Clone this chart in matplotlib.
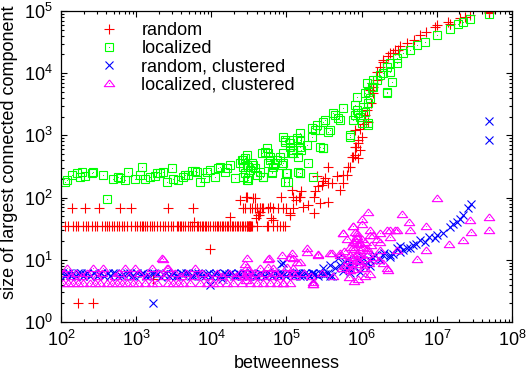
import matplotlib
matplotlib.use("Agg")
import matplotlib.pyplot as plt
from matplotlib.legend_handler import HandlerTuple

# gnuplot-like look
plt.rcParams['font.family'] = ['Liberation Sans', 'DejaVu Sans']
plt.rcParams['mathtext.fontset'] = 'custom'
plt.rcParams['mathtext.rm'] = 'Liberation Sans'
plt.rcParams['font.size'] = 13

# random: long flat row at size 35
red_flat_x = [113, 124, 146, 160, 170, 198, 215, 231, 260, 280, 300, 348, 385, 405, 430, 472,
              510, 550, 590, 641, 690, 748, 850, 964, 1016, 1125, 1180, 1243, 1330, 1405,
              1520, 1608, 1740, 1875, 2072, 2293, 2450, 2672, 2900, 3113, 3457, 3650, 3822,
              4000, 4227, 4460, 4928, 5200, 5470, 5800, 6379, 6700, 7050, 7400, 7800, 8220,
              8600, 9100, 9700, 10600, 11200, 11770, 12360, 13000, 13700, 14400, 15200, 15960,
              16800, 17700, 18600, 19600, 20600, 21700, 22800, 24000, 25300, 26600, 28000,
              29400, 30200, 30700, 31300, 31900, 32500, 33100, 33700, 34400, 40000, 54400,
              57100, 66500, 73800, 81600, 90400, 95300]
red_flat_y = 35

red_pts = [(139, 69), (209, 69), (324, 69), (603, 69), (861, 69), (2690, 69), (5750, 69),
           (32400, 69), (35000, 69), (38000, 69), (41000, 69), (44000, 69), (47000, 69),
           (49000, 69), (57500, 69), (66100, 69), (77600, 69), (91200, 69), (100000, 69),
           (123000, 69), (44700, 68), (60300, 71),
           (24000, 91), (28800, 102), (36300, 100), (17800, 48), (41700, 52), (44700, 59),
           (28200, 68), (85100, 102), (117000, 132), (112000, 52), (135000, 91), (63100, 47),
           (38900, 47), (42700, 52), (9550, 15), (5890, 41), (170, 2), (263, 2), (1700, 5),
           (29500, 102), (38000, 98), (26300, 68), (66100, 44), (112000, 56), (123000, 102),
           (145000, 102), (158000, 126), (166000, 71), (195000, 76), (229000, 102),
           (240000, 126), (229000, 56), (275000, 81), (355000, 85), (263000, 151),
           (309000, 182), (355000, 170), (324000, 204), (468000, 219), (513000, 132),
           (562000, 170), (631000, 229), (692000, 316), (355000, 316), (813000, 479),
           (851000, 661), (891000, 851), (1.0e6, 955), (1.05e6, 1550), (1.23e6, 1660),
           (1.10e6, 2140), (955000, 1290), (891000, 427), (776000, 457), (955000, 589),
           (813000, 1230), (1.41e6, 6030), (1.58e6, 7760), (1.41e6, 4790), (1.74e6, 12600),
           (1.95e6, 15100), (2.24e6, 18600), (2.63e6, 20900), (3.09e6, 23400),
           (251000, 219), (151000, 102), (295000, 158), (398000, 174), (562000, 229),
           (661000, 316), (741000, 457), (813000, 661), (891000, 741), (1.17e6, 2570),
           (1.35e6, 3310), (1.29e6, 5370), (1.41e6, 6920), (1.58e6, 10500), (1.95e6, 16200),
           (2.40e6, 20900), (2.75e6, 23400), (3.24e6, 26900), (3.98e6, 30200),
           (4.90e6, 33900), (5.89e6, 40700), (7.24e6, 46800), (9.33e6, 56200),
           (9.9e6, 58900), (1.41e7, 67600), (1.48e7, 61700), (2.04e7, 75900),
           (2.34e7, 81300), (2.75e7, 87100), (5.0e7, 93300), (5.0e7, 97700)]

green_pts = [(113, 180), (119, 192), (139, 231), (162, 246), (179, 217), (188, 261), (208, 222),
             (256, 251), (269, 261), (366, 231), (405, 95), (496, 197), (578, 212), (610, 204),
             (710, 192), (785, 261), (964, 197), (1122, 231), (1183, 307), (1310, 197),
             (1528, 212), (1780, 222), (1875, 246), (2070, 246), (2290, 261), (2545, 180),
             (2965, 296), (3110, 197), (3630, 192), (4230, 212), (4460, 231), (4930, 231),
             (5470, 270), (6050, 270), (6370, 261), (7050, 180), (8220, 204), (8650, 261),
             (9570, 278), (11170, 212), (12360, 296), (13000, 314), (15200, 261),
             (15960, 296), (17660, 334), (20600, 204), (23990, 356), (25300, 402),
             (28000, 428), (29450, 334), (31000, 204), (32600, 278), (40000, 231),
             (46700, 515), (49000, 217), (54300, 621), (57100, 515), (60100, 402),
             (63400, 261), (70200, 356), (81600, 455), (95300, 180), (100300, 246),
             (95300, 792), (111000, 746), (123000, 583), (136000, 898), (143000, 455),
             (143000, 261), (117000, 515), (26600, 314), (29400, 484), (34400, 356),
             (38000, 296), (44300, 261), (26600, 217), (30000, 192), (26600, 402),
             (31000, 314), (28000, 246), (31000, 192), (36100, 334), (51600, 547),
             (60100, 455), (57100, 356), (66500, 314), (73800, 402), (86100, 334),
             (63400, 246), (49000, 217), (95300, 843), (111000, 658), (123000, 515),
             (151000, 843), (158000, 583), (185000, 701), (216000, 953), (239000, 1222),
             (278000, 1222), (308000, 1660), (359000, 1148), (441000, 2130), (513000, 1770),
             (308000, 621), (151000, 246), (105000, 180), (195000, 356), (226000, 217),
             (278000, 658), (697000, 953), (771000, 1770), (897000, 2265), (998000, 1567),
             (1.05e6, 2890), (1.22e6, 3280), (813000, 3080), (855000, 4190), (1.10e6, 4750),
             (1.29e6, 3950), (1.22e6, 1470), (946000, 2000), (813000, 2130), (1.10e6, 2400),
             (1.36e6, 6070), (2.14e6, 5050), (1.58e6, 7780), (1.93e6, 9960), (2.37e6, 10570),
             (2.50e6, 7300), (2.14e6, 12700), (2.91e6, 14400), (2.14e6, 4860), (697000, 1014),
             (302000, 621), (151000, 251), (418000, 2265), (487000, 1880), (324000, 1770),
             (568000, 2730), (1.16e6, 6890), (1.42e6, 7780), (1.75e6, 9350), (1.42e6, 6070),
             (1.22e6, 1567), (1.22e6, 5050), (855000, 2560), (2.37e6, 14400), (2.91e6, 17400),
             (3.56e6, 20900), (4.37e6, 23600), (5.37e6, 28400), (6.92e6, 32100),
             (9.9e6, 41100), (1.49e7, 50800), (1.92e7, 61800), (2.24e7, 67300),
             (2.75e7, 74300), (4.95e7, 89500), (90400, 953), (123000, 843), (151000, 658),
             (90400, 515), (151000, 1081), (216000, 1300), (251000, 1470), (378000, 1222),
             (90400, 356), (100000, 246)]

blue_pts = [(103, 6.1), (113, 5.4), (118, 5.9), (128, 6.1), (135, 5.5), (144, 6.1), (158, 5.5),
            (170, 6.1), (185, 6.2), (195, 5.5), (208, 6.0), (225, 6.1), (243, 5.4), (275, 6.1),
            (300, 5.5), (320, 6.0), (345, 6.1), (373, 5.5), (422, 6.1), (450, 5.5), (491, 6.2),
            (530, 6.1), (573, 5.4), (620, 5.5), (667, 6.0), (755, 6.1), (820, 6.1), (879, 5.5),
            (950, 5.4), (1025, 6.1), (1158, 6.0), (1250, 6.1), (1350, 5.4), (1480, 5.5),
            (1622, 6.1), (1750, 6.1), (1891, 6.0), (2138, 5.3), (2300, 6.0), (2490, 6.1),
            (2700, 5.5), (2903, 6.0), (3150, 6.1), (3382, 5.5), (3650, 5.4), (3944, 6.1),
            (4250, 6.0), (4592, 6.2), (4950, 6.1), (5355, 5.4), (5700, 5.5), (6053, 6.1),
            (6550, 6.1), (7050, 6.0), (7600, 5.4), (8220, 5.5), (8750, 6.0), (9290, 6.1),
            (9800, 5.5), (10830, 6.0), (11500, 6.1), (12620, 5.4), (13600, 5.5), (14710, 6.1),
            (15900, 6.0), (17150, 6.0), (18500, 6.1), (20000, 5.5), (21300, 5.4), (22600, 6.1),
            (24000, 6.0), (25540, 5.4), (27600, 6.1), (29740, 6.0), (31500, 5.4), (33630, 6.1),
            (35700, 6.0), (38000, 5.5), (41000, 5.5), (44300, 6.1), (47600, 6.0), (51600, 5.4),
            (55500, 6.1), (60100, 6.0), (64800, 5.4), (70200, 6.1), (75000, 6.0), (79300, 5.5),
            (85700, 6.1), (92300, 6.0), (99000, 5.4), (107600, 6.1), (116000, 6.0),
            (125400, 5.5), (133000, 6.1), (141800, 6.1), (153000, 5.5), (165200, 5.4),
            (178000, 6.1), (192600, 6.0), (208000, 5.5), (224400, 6.1), (242000, 6.0),
            (261600, 5.5), (283000, 6.1), (304800, 6.0), (330000, 6.0), (355500, 6.1),
            (375000, 5.5), (401700, 5.4),
            (441000, 7.4), (513000, 8.2), (598000, 9.2), (697000, 8.8), (855000, 9.9),
            (1.16e6, 9.3), (1.75e6, 9.9), (2.37e6, 11.9), (3.22e6, 13.5), (3.95e6, 15.3),
            (630000, 9.9), (946000, 9.3), (1.29e6, 9.9), (1.93e6, 11.9), (2.37e6, 11.2),
            (2.91e6, 15.3), (3.56e6, 14.4), (4.37e6, 15.3), (4.84e6, 17.3), (5.94e6, 20.8),
            (6.92e6, 19.5), (9.4e6, 22.2), (9.9e6, 25.1), (1.49e7, 34), (1.83e7, 41),
            (2.24e7, 52.5), (2.61e7, 67.3), (2.81e7, 78.9), (1.5e6, 11.9), (998000, 11.2),
            (697000, 6.1), (946000, 6.4), (630000, 7.3), (487000, 10.6), (378000, 8.2),
            (308000, 7.3), (216000, 6.1), (151000, 6.1), (226000, 4.7), (1.1e6, 8.5),
            (1.4e6, 10.5), (800000, 7.8), (560000, 6.5), (1.3e6, 8.0), (2.0e6, 13),
            (2.6e6, 12.5), (3.2e6, 16.5), (5.3e6, 18), (7.8e6, 23), (1.2e7, 27),
            (1.65e7, 38), (2.05e7, 46),
            (1700, 2), (85100, 8.7), (13800, 5.0), (90400, 8.8), (9570, 3.9),
            (4.9e7, 1720), (4.9e7, 843)]

magenta_pts = [(107, 4.3), (125, 4.3), (146, 4.3), (170, 4.3), (198, 4.3), (243, 4.3), (283, 4.3),
               (330, 4.3), (405, 4.3), (472, 4.3), (550, 4.3), (641, 4.3), (748, 4.3), (915, 4.3),
               (1067, 4.3), (1310, 4.3), (1608, 4.3), (1875, 4.3), (2672, 4.3), (3113, 4.3),
               (3630, 4.3), (4227, 4.3), (5190, 4.3), (7050, 4.3), (8650, 4.3), (10600, 4.3),
               (12360, 4.3), (15960, 4.3), (19540, 4.3), (25300, 4.3), (32600, 4.3),
               (40000, 4.3), (49000, 4.3), (60100, 4.3), (73800, 4.3), (90400, 4.2),
               (111000, 4.3), (226000, 4.1),
               (110, 6.1), (135, 5.4), (160, 6.1), (190, 5.4), (225, 6.1), (300, 5.4), (350, 6.1),
               (520, 5.4), (600, 6.1), (800, 5.4), (1100, 6.1), (1400, 5.4), (2000, 6.1),
               (2400, 5.4), (3300, 6.1), (4000, 5.4), (4600, 6.1), (5800, 5.4), (7500, 6.1),
               (9000, 5.4), (12000, 6.1), (14000, 5.4), (17000, 6.1), (21000, 5.4),
               (24000, 6.1), (27000, 5.4), (30000, 6.1), (34000, 5.4), (37000, 6.1),
               (45000, 5.4), (52000, 6.1), (62000, 5.4), (70000, 6.1), (80000, 5.4),
               (100000, 6.1), (130000, 5.4), (170000, 6.1), (210000, 5.4), (300000, 6.1),
               (420000, 5.4),
               (119, 7.3), (269, 7.3), (366, 7.3), (710, 7.3), (964, 7.3), (1608, 7.3),
               (2545, 7.3), (2672, 7.3), (6053, 7.3), (29450, 7.7), (44300, 7.3), (57100, 7.7),
               (66500, 7.3), (123000, 7.3),
               (2184, 10.5), (2250, 10.2), (29450, 10.5), (57100, 10.2), (58900, 10.5),
               (86100, 11.9), (123000, 10.5), (28000, 8.5), (30000, 5.5), (31000, 6.9),
               (28800, 4.8),
               (111000, 11.2), (136000, 9.3), (185000, 13.5), (264000, 11.9), (398000, 12.7),
               (513000, 11.9), (568000, 26.7), (771000, 34.8), (998000, 37.6), (813000, 20.8),
               (1.05e6, 16.3), (1.16e6, 14.4), (1.29e6, 25), (1.75e6, 26.7), (2.37e6, 30.2),
               (2.91e6, 30.2), (1.93e6, 8.8), (2.25e6, 6.9), (697000, 6.85), (946000, 14.4),
               (734000, 11.2), (226000, 4.4),
               (9.9e6, 100), (4.9e7, 48), (4.95e7, 30), (2.75e7, 43.6), (2.81e7, 28.2),
               (2.24e7, 20.8), (1.47e7, 17.8), (7.1e6, 34.9), (7.24e6, 14.4), (5.37e6, 10.3),
               (3.41e6, 53.9), (4.32e6, 41), (1.20e6, 59), (1.0e6, 45), (5.64e5, 27.3),
               (7.7e5, 35.3), (2.18e6, 7.3), (2.26e5, 4.08), (90400, 4.19), (4.37e6, 30.2),
               (2.75e6, 30.2), (2.37e6, 23.5), (2.14e6, 30.2), (1.75e6, 19.5), (1.42e6, 25),
               (1.29e6, 30.2), (8.55e5, 26.7), (2.91e6, 14.4), (1.75e6, 14.4), (1.85e5, 15.3),
               (2.63e5, 12.4), (378000, 12.7), (513000, 12.7), (117000, 12.7), (151000, 9.3),
               (100300, 7.7), (123000, 6.1), (855000, 10), (1.10e6, 7.3), (697000, 6.9),
               (771000, 16.3), (1.16e6, 15.3), (946000, 18.4), (855000, 22.1),
               (600000, 8), (650000, 10), (700000, 12), (720000, 9), (760000, 7), (790000, 15),
               (820000, 11), (850000, 8.5), (880000, 13), (900000, 18), (930000, 9.5),
               (960000, 12), (1.0e6, 22), (1.03e6, 7.5), (1.07e6, 10.5), (1.12e6, 19),
               (1.2e6, 12.5), (1.25e6, 9), (1.35e6, 17), (1.45e6, 11), (1.6e6, 22), (1.7e6, 10),
               (820000, 28), (880000, 24), (760000, 19), (700000, 16), (640000, 22),
               (580000, 14), (540000, 7.5), (1.1e6, 5.5), (900000, 5), (780000, 4.6),
               (680000, 5.2), (1.3e6, 6.0)]


def xy(pts):
    return [p[0] for p in pts], [p[1] for p in pts]


fig = plt.figure(figsize=(5.27, 3.75), dpi=100)
ax = fig.add_axes([61 / 527, 53 / 375, 451 / 527, 311 / 375])

lw = 0.8
rx, ry = xy(red_pts)
ax.plot(red_flat_x, [red_flat_y] * len(red_flat_x), ls='none', marker='+', ms=7.5,
        mew=lw, color='#ff0000')
h_red, = ax.plot(rx, ry, ls='none', marker='+', ms=7.5, mew=lw, color='#ff0000')

gx, gy = xy(green_pts)
h_green, = ax.plot(gx, gy, ls='none', marker='s', ms=6, mew=lw, mfc='none', color='#00ff00')
h_gdot, = ax.plot(gx, gy, ls='none', marker='o', ms=0.8, mew=0, color='#00ff00')

bx, by = xy(blue_pts)
h_blue, = ax.plot(bx, by, ls='none', marker='x', ms=6, mew=lw, color='#0000ff')

# flat gnuplot triangle
tri = [(0, 0.68), (-1, -0.6), (1, -0.6), (0, 0.68)]
mx, my = xy(magenta_pts)
h_mag, = ax.plot(mx, my, ls='none', marker=tri, ms=7.5, mew=lw, mfc='none', color='#ff00ff')
h_mdot, = ax.plot(mx, my, ls='none', marker='o', ms=0.8, mew=0, color='#ff00ff')

ax.set_xscale('log')
ax.set_yscale('log')
ax.set_xlim(1e2, 1e8)
ax.set_ylim(1, 1e5)
ax.tick_params(which='both', direction='in', top=True, right=True, width=0.8, pad=6)
ax.tick_params(which='major', length=4.5)
ax.tick_params(which='minor', length=2.2)
for s in ax.spines.values():
    s.set_linewidth(0.9)

ax.set_xlabel('betweenness', labelpad=3.5)
ax.set_ylabel('size of largest connected component', fontsize=13)
ax.yaxis.set_label_coords(-0.095, 0.547)

ax.legend([h_red, (h_green, h_gdot), h_blue, (h_mag, h_mdot)],
          ['random', 'localized', 'random, clustered', 'localized, clustered'],
          handler_map={tuple: HandlerTuple(ndivide=1, pad=0)},
          loc='upper left', bbox_to_anchor=(0.0674, 0.965), frameon=False,
          borderpad=0, borderaxespad=0, handlelength=2.0, handletextpad=0.77,
          labelspacing=0.06, numpoints=1)

fig.savefig('out.png', dpi=100)
